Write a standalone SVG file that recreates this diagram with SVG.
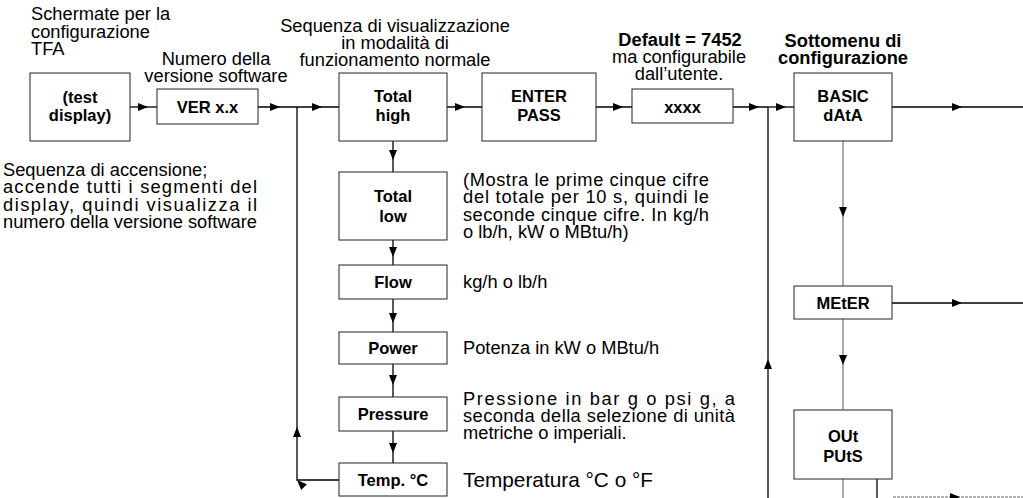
<svg xmlns="http://www.w3.org/2000/svg" width="1023" height="498" viewBox="0 0 1023 498">
<style>
text{font-family:"Liberation Sans",Arial,sans-serif;fill:#000}
.t{font-size:18.3px}
.b{font-size:18.3px;font-weight:bold}
.l{font-size:16.5px;font-weight:bold;text-anchor:middle}
.c{text-anchor:middle}
.box{fill:#fff;stroke:#222;stroke-width:1}
.ln{fill:none;stroke:#000;stroke-width:1.3}
.lg{fill:none;stroke:#555;stroke-width:1}
.dt{fill:none;stroke:#666;stroke-width:1;stroke-dasharray:3 1}
</style>
<defs>
<marker id="ah" markerWidth="10" markerHeight="8" refX="10" refY="4" orient="auto" markerUnits="userSpaceOnUse">
<path d="M0,0 L10,4 L0,8 z" fill="#000"/>
</marker>
</defs>
<g id="connectors">
<path class="ln" d="M130 107 L148 107 L157 107" marker-mid="url(#ah)"/>
<path class="ln" d="M258 107 L280 107 L297 107" marker-mid="url(#ah)"/>
<path class="ln" d="M297 107 L322 107 L339 107" marker-mid="url(#ah)"/>
<path class="ln" d="M447 107 L465 107 L482 107" marker-mid="url(#ah)"/>
<path class="ln" d="M596 107 L623 107 L632 107" marker-mid="url(#ah)"/>
<path class="ln" d="M733 107 L759 107 L768 107" marker-mid="url(#ah)"/>
<path class="ln" d="M768 107 L786 107 L794 107" marker-mid="url(#ah)"/>
<path class="ln" d="M892 107 L962 107 L1023 107" marker-mid="url(#ah)"/>
<path class="ln" d="M393 141 L393 160 L393 172" marker-mid="url(#ah)"/>
<path class="ln" d="M393 240 L393 257 L393 265" marker-mid="url(#ah)"/>
<path class="ln" d="M393 299 L393 323 L393 332" marker-mid="url(#ah)"/>
<path class="ln" d="M393 364 L393 385 L393 397" marker-mid="url(#ah)"/>
<path class="ln" d="M393 431 L393 453 L393 463" marker-mid="url(#ah)"/>
<path class="ln" d="M339 480 L297 480 L297 427 L297 107" marker-mid="url(#ah)"/>
<path class="ln" d="M768 498 L768 359 L768 107" marker-mid="url(#ah)"/>
<path class="lg" d="M843 141 L843 217 L843 286" marker-mid="url(#ah)"/>
<path class="ln" d="M892 303 L962 303 L1023 303" marker-mid="url(#ah)"/>
<path class="lg" d="M843 319 L843 365 L843 410" marker-mid="url(#ah)"/>
<path class="lg" d="M843 479 L843 498"/>
<path class="ln" d="M877 479 L877 498"/>
<path class="dt" d="M893 497 L960 497 L1023 497" marker-mid="url(#ah)"/>
</g>
<g id="n-test"><rect class="box" x="30" y="73" width="100" height="68"/><text class="l" x="80" y="103">(test</text><text class="l" x="80" y="121">display)</text></g>
<g id="n-ver"><rect class="box" x="157" y="89" width="101" height="35"/><text class="l" x="207.5" y="113">VER x.x</text></g>
<g id="n-total-high"><rect class="box" x="339" y="73" width="108" height="68"/><text class="l" x="393" y="102">Total</text><text class="l" x="393" y="121">high</text></g>
<g id="n-enter"><rect class="box" x="482" y="73" width="114" height="68"/><text class="l" x="539" y="102">ENTER</text><text class="l" x="539" y="121">PASS</text></g>
<g id="n-xxxx"><rect class="box" x="632" y="89" width="101" height="34"/><text class="l" x="682.5" y="113">xxxx</text></g>
<g id="n-basic"><rect class="box" x="794" y="73" width="98" height="68"/><text class="l" x="843" y="102">BASIC</text><text class="l" x="843" y="121">dAtA</text></g>
<g id="n-total-low"><rect class="box" x="339" y="172" width="108" height="68"/><text class="l" x="393" y="202">Total</text><text class="l" x="393" y="222">low</text></g>
<g id="n-flow"><rect class="box" x="339" y="265" width="108" height="34"/><text class="l" x="393" y="288">Flow</text></g>
<g id="n-power"><rect class="box" x="339" y="332" width="108" height="32"/><text class="l" x="393" y="354">Power</text></g>
<g id="n-pressure"><rect class="box" x="339" y="397" width="108" height="34"/><text class="l" x="393" y="420">Pressure</text></g>
<g id="n-temp"><rect class="box" x="339" y="463" width="108" height="33"/><text class="l" x="393" y="486">Temp. °C</text></g>
<g id="n-meter"><rect class="box" x="794" y="286" width="98" height="33"/><text class="l" x="843" y="309">MEtER</text></g>
<g id="n-outputs"><rect class="box" x="794" y="410" width="98" height="69"/><text class="l" x="843" y="442">OUt</text><text class="l" x="843" y="462">PUtS</text></g>
<g id="labels">
<text class="t" x="31" y="20">Schermate per la</text>
<text class="t" x="31" y="37.5">configurazione</text>
<text class="t" x="31" y="55">TFA</text>
<text class="t c" x="216" y="65">Numero della</text>
<text class="t c" x="216" y="82">versione software</text>
<text class="t c" x="395" y="32">Sequenza di visualizzazione</text>
<text class="t c" x="395" y="49">in modalità di</text>
<text class="t c" x="395" y="66">funzionamento normale</text>
<text class="b c" x="680" y="46">Default = 7452</text>
<text class="t c" x="679" y="63">ma configurabile</text>
<text class="t c" x="679" y="80">dall’utente.</text>
<text class="b c" x="843" y="47">Sottomenu di</text>
<text class="b c" x="843" y="64">configurazione</text>
<text class="t" x="3" y="176">Sequenza di accensione;</text>
<text class="t" x="3" y="193" textLength="254" lengthAdjust="spacing">accende tutti i segmenti del</text>
<text class="t" x="3" y="211" textLength="254" lengthAdjust="spacing">display, quindi visualizza il</text>
<text class="t" x="3" y="228">numero della versione software</text>
<text class="t" x="463" y="186" textLength="246" lengthAdjust="spacing">(Mostra le prime cinque cifre</text>
<text class="t" x="463" y="203" textLength="246" lengthAdjust="spacing">del totale per 10 s, quindi le</text>
<text class="t" x="463" y="221" textLength="246" lengthAdjust="spacing">seconde cinque cifre. In kg/h</text>
<text class="t" x="463" y="238">o lb/h, kW o MBtu/h)</text>
<text class="t" x="463" y="288">kg/h o lb/h</text>
<text class="t" x="463" y="354">Potenza in kW o MBtu/h</text>
<text class="t" x="463" y="405" textLength="272" lengthAdjust="spacing">Pressione in bar g o psi g, a</text>
<text class="t" x="463" y="422" textLength="272" lengthAdjust="spacing">seconda della selezione di unità</text>
<text class="t" x="463" y="439">metriche o imperiali.</text>
<text class="t" x="463" y="487" style="font-size:20.8px">Temperatura °C o °F</text>
</g>
</svg>
